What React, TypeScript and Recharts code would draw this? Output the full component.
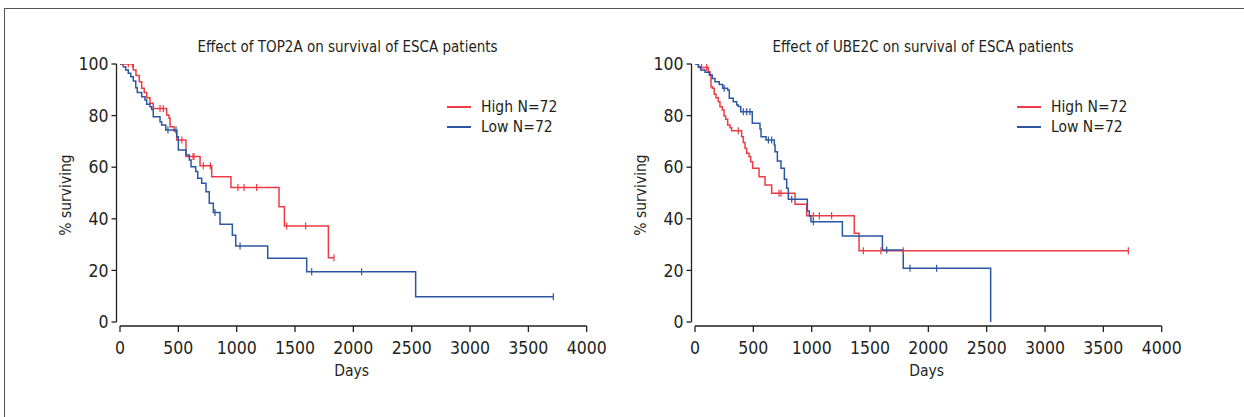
import React from 'react';
import { LineChart, Line, XAxis, YAxis, Legend } from 'recharts';

const FONT = "'Liberation Sans Narrow', 'Arial Narrow', 'DejaVu Sans Condensed', sans-serif";
const INK = '#231f20';
const RED = '#ee3a43';
const BLUE = '#2b56a3';

const xTicks = [0, 500, 1000, 1500, 2000, 2500, 3000, 3500, 4000];
const yTicks = [0, 20, 40, 60, 80, 100];

const titleTop2a = 'Effect of TOP2A on survival of ESCA patients';
const titleUbe2c = 'Effect of UBE2C on survival of ESCA patients';
const highName = 'High N=72';
const lowName = 'Low N=72';

// TOP2A — High
const top2aHighTimes = [0, 114, 137, 165, 186, 208, 229, 257, 285, 400, 420, 429, 463, 486, 565, 686, 786, 951, 1363, 1409, 1786];
const top2aHighSurv = [100, 97.7, 95.5, 93.1, 90.6, 89.0, 86.9, 84.8, 82.8, 80.2, 79.0, 75.7, 74.0, 70.5, 64.1, 60.6, 56.3, 52.1, 44.7, 37.2, 24.9];
const top2aHighCensor = [28, 71, 106, 343, 371, 530, 626, 634, 714, 774, 1011, 1063, 1171, 1429, 1591, 1834];

// TOP2A — Low
const top2aLowTimes = [0, 28, 49, 71, 92, 114, 135, 148, 186, 214, 229, 257, 272, 285, 343, 357, 392, 486, 500, 566, 594, 609, 649, 666, 700, 737, 765, 800, 857, 963, 992, 1266, 1600, 2534];
const top2aLowSurv = [100, 98.9, 97.7, 96.4, 95.1, 93.4, 90.8, 89.0, 87.3, 86.0, 84.4, 83.4, 82.4, 79.6, 77.6, 76.4, 74.4, 71.8, 66.7, 64.7, 62.8, 60.2, 58.3, 55.7, 53.8, 50.5, 46.0, 42.4, 37.9, 33.6, 29.5, 24.7, 19.5, 9.8];
const top2aLowCensor = [411, 480, 814, 1029, 1643, 2071, 3714];

// UBE2C — High
const ube2cHighTimes = [0, 29, 114, 129, 137, 148, 165, 180, 200, 214, 234, 249, 263, 280, 300, 314, 400, 414, 429, 443, 463, 477, 494, 549, 600, 657, 857, 957, 1365, 1406];
const ube2cHighSurv = [100, 98.6, 97.0, 95.7, 91.2, 90.6, 88.3, 86.9, 85.4, 83.4, 82.2, 79.8, 78.6, 76.4, 75.3, 74.1, 71.8, 69.6, 67.3, 65.4, 64.1, 62.1, 59.6, 56.3, 53.1, 49.9, 45.6, 41.2, 34.4, 27.6];
const ube2cHighCensor = [57, 100, 371, 720, 737, 1014, 1066, 1171, 1443, 1594, 1785, 3714];

// UBE2C — Low
const ube2cLowTimes = [0, 29, 49, 86, 123, 148, 171, 208, 237, 280, 294, 328, 357, 371, 392, 491, 557, 566, 609, 680, 686, 706, 737, 766, 786, 800, 963, 980, 994, 1263, 1606, 1785, 2534];
const ube2cLowSurv = [100, 98.9, 97.7, 96.8, 95.7, 94.4, 93.1, 92.1, 90.6, 89.9, 86.7, 85.4, 84.1, 83.5, 81.5, 77.0, 74.8, 71.8, 70.5, 68.6, 66.0, 62.4, 59.6, 55.3, 51.8, 47.6, 43.0, 41.1, 38.9, 33.3, 27.9, 20.8, 0];
const ube2cLowCensor = [250, 414, 443, 471, 629, 657, 829, 1014, 1643, 1843, 2071];

type Pt = { t: number; s: number; c: boolean };

function buildSeries(times: number[], surv: number[], censor: number[]): Pt[] {
  const pts: Pt[] = times.map((t, i) => ({ t, s: surv[i], c: false }));
  censor.forEach((ct) => {
    let v = surv[0];
    for (let i = 0; i < times.length; i++) if (times[i] <= ct) v = surv[i];
    pts.push({ t: ct, s: v, c: true });
  });
  pts.sort((a, b) => a.t - b.t || (a.c === b.c ? 0 : a.c ? 1 : -1));
  return pts;
}

const top2aHigh = buildSeries(top2aHighTimes, top2aHighSurv, top2aHighCensor);
const top2aLow = buildSeries(top2aLowTimes, top2aLowSurv, top2aLowCensor);
const ube2cHigh = buildSeries(ube2cHighTimes, ube2cHighSurv, ube2cHighCensor);
const ube2cLow = buildSeries(ube2cLowTimes, ube2cLowSurv, ube2cLowCensor);

const makeCensor = (color: string) => (props: any) => {
  const { cx, cy, payload, index } = props;
  if (!payload || !payload.c || cx == null || cy == null) return <g key={`n-${index}`} />;
  return <line key={`c-${index}`} x1={cx} x2={cx} y1={cy - 3.5} y2={cy + 3.5} stroke={color} strokeWidth={1.2} />;
};

const renderLegend = (props: any) => {
  const { payload } = props;
  return (
    <div style={{ fontFamily: FONT, fontSize: 15.5, color: INK, lineHeight: '20px' }}>
      {(payload || []).map((e: any, i: number) => (
        <div key={i} style={{ display: 'flex', alignItems: 'center', height: 20 }}>
          <span style={{ display: 'inline-block', width: 24, height: 0, borderTop: `2.5px solid ${e.color}`, marginRight: 10 }} />
          <span>{e.value}</span>
        </div>
      ))}
    </div>
  );
};

const tickStyle = { fill: INK, fontSize: 17.5, fontFamily: FONT };

function Panel(props: { left: number; title: string; titleCenter: number; high: Pt[]; low: Pt[]; legendLeft: number }) {
  const { left, title, titleCenter, high, low, legendLeft } = props;
  return (
    <div style={{ position: 'absolute', left, top: 0, width: 620, height: 417 }}>
      <div
        style={{
          position: 'absolute',
          left: titleCenter - 250,
          width: 500,
          top: 37,
          textAlign: 'center',
          fontSize: 15,
          lineHeight: '20px',
          fontFamily: FONT,
          color: INK,
        }}
      >
        {title}
      </div>
      <LineChart width={620} height={417} margin={{ top: 64, right: 33.3, bottom: 3, left: 13.5 }}>
        <XAxis
          type="number"
          dataKey="t"
          domain={[0, 4000]}
          ticks={xTicks}
          interval={0}
          allowDataOverflow
          padding={{ left: 3.5, right: 0 }}
          height={88}
          tickSize={6}
          tickMargin={10}
          tick={tickStyle}
          tickLine={{ stroke: INK, strokeWidth: 1.3 }}
          axisLine={{ stroke: INK, strokeWidth: 1.3, strokeDasharray: '0 3.5 500 50' }}
          label={{ value: 'Days', position: 'center', fill: INK, fontSize: 15.5, fontFamily: FONT }}
        />
        <YAxis
          type="number"
          domain={[0, 100]}
          ticks={yTicks}
          interval={0}
          allowDataOverflow
          width={103}
          padding={{ top: 0, bottom: 4 }}
          tickSize={5}
          tickMargin={3}
          tick={tickStyle}
          tickLine={{ stroke: INK, strokeWidth: 1.3 }}
          axisLine={{ stroke: INK, strokeWidth: 1.3, strokeDasharray: '258 50' }}
          label={{ value: '% surviving', position: 'center', angle: -90, fill: INK, fontSize: 15.5, fontFamily: FONT }}
        />
        <Legend
          layout="horizontal"
          verticalAlign="middle"
          align="center"
          content={renderLegend}
          wrapperStyle={{ left: legendLeft, top: 96.7, width: 'auto' }}
        />
        <Line
          data={high}
          dataKey="s"
          name={highName}
          type="stepAfter"
          stroke={RED}
          strokeWidth={1.5}
          dot={makeCensor(RED)}
          activeDot={false}
          isAnimationActive={false}
        />
        <Line
          data={low}
          dataKey="s"
          name={lowName}
          type="stepAfter"
          stroke={BLUE}
          strokeWidth={1.5}
          dot={makeCensor(BLUE)}
          activeDot={false}
          isAnimationActive={false}
        />
      </LineChart>
    </div>
  );
}

export default function App() {
  return (
    <div style={{ position: 'absolute', left: 0, top: 0, width: 1244, height: 417, background: '#fff', overflow: 'hidden' }}>
      <div
        style={{
          position: 'absolute',
          left: 4,
          top: 8,
          width: 1240,
          height: 409,
          borderTop: '1px solid #555',
          borderLeft: '1px solid #555',
        }}
      />
      <Panel left={0} title={titleTop2a} titleCenter={347.5} high={top2aHigh} low={top2aLow} legendLeft={447} />
      <Panel left={575} title={titleUbe2c} titleCenter={348} high={ube2cHigh} low={ube2cLow} legendLeft={442} />
    </div>
  );
}
